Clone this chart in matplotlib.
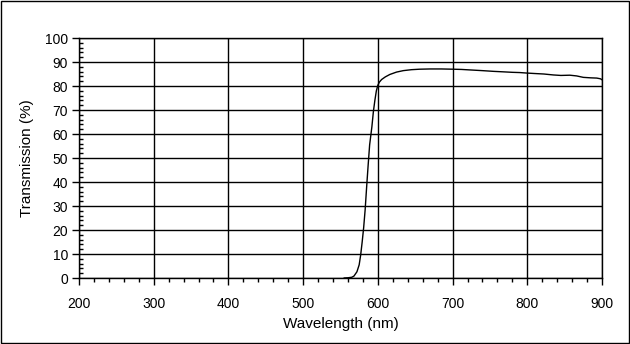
import matplotlib.pyplot as plt
from matplotlib.ticker import MultipleLocator
from matplotlib.patches import Rectangle

# transmission curve
wavelength = [555, 560, 565, 568, 572, 575, 577, 579, 581, 583, 585, 587, 589,
              592, 594, 596, 598, 600, 602, 605, 610, 616, 625, 634, 645, 656,
              670, 685, 700, 712, 723, 740, 755, 768, 780, 790, 799, 810, 822,
              835, 845, 857, 866, 875, 885, 893, 898, 900]
transmission = [0.0, 0.1, 0.3, 0.8, 2.6, 5.5, 9.6, 15.0, 21.0, 28.5, 38.0,
                47.0, 55.5, 63.0, 69.3, 74.0, 78.0, 80.3, 81.6, 82.7, 83.8, 84.8,
                85.8, 86.4, 86.8, 87.0, 87.1, 87.1, 87.0, 86.9, 86.7, 86.4, 86.1,
                85.9, 85.7, 85.6, 85.4, 85.2, 85.0, 84.6, 84.4, 84.5, 84.2, 83.6,
                83.4, 83.3, 83.0, 82.6]

x_ticks = [200, 300, 400, 500, 600, 700, 800, 900]
y_ticks = [0, 10, 20, 30, 40, 50, 60, 70, 80, 90, 100]

plt.rcParams['font.family'] = ['Liberation Sans', 'DejaVu Sans']

fig = plt.figure(figsize=(6.3, 3.44), dpi=100)
ax = fig.add_axes([79 / 630, 1 - 278 / 344, 523 / 630, 240 / 344])

ax.plot(wavelength, transmission, color='black', linewidth=1.0)

ax.set_xlim(200, 900)
ax.set_ylim(0, 100)
ax.set_xticks(x_ticks)
ax.set_yticks(y_ticks)
ax.xaxis.set_minor_locator(MultipleLocator(20))
ax.yaxis.set_minor_locator(MultipleLocator(2))
ax.grid(True, which='major', color='black', linewidth=1.0)
ax.set_axisbelow(True)

ax.tick_params(axis='both', which='major', direction='out', length=5,
               width=1, labelsize=10, pad=3)
ax.tick_params(axis='x', which='major', pad=9)
ax.tick_params(axis='y', which='minor', direction='in', length=3, width=1)
ax.tick_params(axis='x', which='minor', direction='out', length=3, width=1)

for s in ax.spines.values():
    s.set_linewidth(1.0)

ax.set_xlabel('Wavelength (nm)', fontsize=11, labelpad=4)
ax.set_ylabel('Transmission (%)', fontsize=11, labelpad=8)

# outer frame around the whole figure
fig.patches.append(Rectangle((0.0008, 0.0015), 0.9984, 0.997, transform=fig.transFigure,
                             fill=False, edgecolor='black', linewidth=1.0))

plt.savefig('out.png', dpi=100)
